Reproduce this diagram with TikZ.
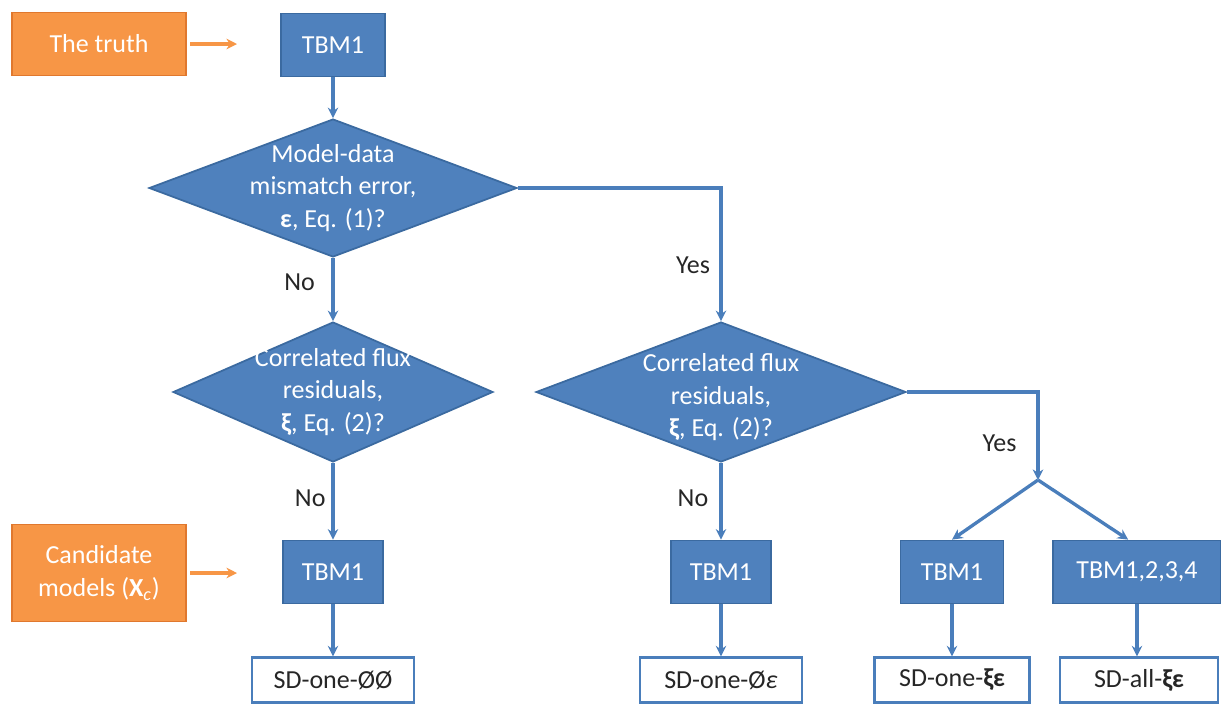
\documentclass[tikz,border=0pt]{standalone}
\usepackage{fontspec}
\setmainfont{Carlito}
\usetikzlibrary{shapes.geometric,arrows.meta}

\definecolor{boxBlue}{HTML}{4F81BD}
\definecolor{edgeBlue}{HTML}{3B6AA0}
\definecolor{lineBlue}{HTML}{4A7EBB}
\definecolor{boxOrange}{HTML}{F79646}
\definecolor{edgeOrange}{HTML}{E0782E}
\definecolor{labelGray}{HTML}{262626}

\begin{document}
\begin{tikzpicture}[x=0.02cm,y=-0.02cm,
    font=\fontsize{14.8}{18.5}\selectfont,
    blueBox/.style={draw=edgeBlue,fill=boxBlue,line width=1pt,text=white,minimum height=1.26cm,inner sep=0pt},
    orangeBox/.style={draw=edgeOrange,fill=boxOrange,line width=1pt,text=white,minimum width=3.48cm,align=center,inner sep=0pt},
    question/.style={diamond,draw=edgeBlue,fill=boxBlue,line width=1pt,inner sep=0pt},
    questionText/.style={text=white,align=center},
    resultBox/.style={draw=lineBlue,fill=white,line width=1.3pt,minimum height=0.9cm,text=labelGray,inner sep=0pt},
    flow/.style={draw=lineBlue,line width=1.9pt,-{Stealth[length=6pt,width=6pt]}},
    feed/.style={draw=boxOrange,line width=1.9pt,-{Stealth[length=6pt,width=6pt]}},
    answer/.style={text=labelGray}]

    \useasboundingbox (0,0) rectangle (1221,704);

    % inputs
    \node[orangeBox,minimum height=1.26cm] (truthBox) at (99,44) {The truth};
    \node[orangeBox,minimum height=1.94cm] (candBox) at (99,573) {Candidate\\models (\textbf{X}\textsubscript{\textit{c}})};
    \coordinate (truthTip) at (237,44);
    \coordinate (candTip) at (237,573);

    % questions
    \node[blueBox,minimum width=2.08cm] (tbmTop) at (333,45) {TBM1};
    \node[question,minimum width=7.36cm,minimum height=2.76cm,
          label={[questionText]center:{Model-data\\mismatch error,\\\textbf{ε}, Eq. (1)?}}] (mismatchQ) at (333,188) {};
    \node[question,minimum width=6.4cm,minimum height=2.8cm,
          label={[questionText]center:{Correlated flux\\residuals,\\\textbf{ξ}, Eq. (2)?}}] (fluxQLeft) at (333,392) {};
    \node[question,minimum width=7.4cm,minimum height=2.8cm,
          label={[questionText,yshift=-3pt]center:{Correlated flux\\residuals,\\\textbf{ξ}, Eq. (2)?}}] (fluxQRight) at (721,392) {};
    \coordinate (splitPoint) at (1038,480);

    % candidate models
    \node[blueBox,minimum width=2cm] (tbmLeft) at (333,572) {TBM1};
    \node[blueBox,minimum width=2cm] (tbmMid) at (721,572) {TBM1};
    \node[blueBox,minimum width=2.06cm] (tbmOne) at (952,572) {TBM1};
    \node[blueBox,minimum width=3.36cm] (tbmAll) at (1137,572) {TBM1,2,3,4};

    % results
    \node[resultBox,minimum width=3.24cm] (sdLeft) at (333,680) {SD-one-ØØ};
    \node[resultBox,minimum width=3.24cm] (sdMid) at (721,680) {SD-one-Ø\textit{ε}};
    \node[resultBox,minimum width=3.1cm] (sdOne) at (952,680) {SD-one-\textbf{ξε}};
    \node[resultBox,minimum width=3.16cm] (sdAll) at (1139,680) {SD-all-\textbf{ξε}};

    \draw[feed] ([xshift=2pt]truthBox.east) -- (truthTip);
    \draw[feed] ([xshift=2pt]candBox.east) -- (candTip);

    \draw[flow] (tbmTop.south) -- (mismatchQ.north);
    \draw[flow] (mismatchQ.south) -- node[answer,left,pos=0.38,xshift=-6pt] {No} (fluxQLeft.north);
    \draw[flow] (mismatchQ.east) -| node[answer,left,pos=0.79,xshift=-2pt] {Yes} (fluxQRight.north);
    \draw[flow] (fluxQLeft.south) -- node[answer,left,pos=0.46] {No} (tbmLeft.north);
    \draw[flow] (fluxQRight.south) -- node[answer,left,pos=0.46,xshift=-3pt] {No} (tbmMid.north);
    \draw[flow] (fluxQRight.east) -| node[answer,left,pos=0.79,xshift=-8pt] {Yes} (splitPoint);
    \draw[flow] (splitPoint) -- (tbmOne.north);
    \draw[flow] (splitPoint) -- ([xshift=-5pt]tbmAll.north);

    \draw[flow] (tbmLeft.south) -- (sdLeft.north -| tbmLeft.south);
    \draw[flow] (tbmMid.south) -- (sdMid.north -| tbmMid.south);
    \draw[flow] (tbmOne.south) -- (sdOne.north -| tbmOne.south);
    \draw[flow] (tbmAll.south) -- (sdAll.north -| tbmAll.south);
\end{tikzpicture}
\end{document}
